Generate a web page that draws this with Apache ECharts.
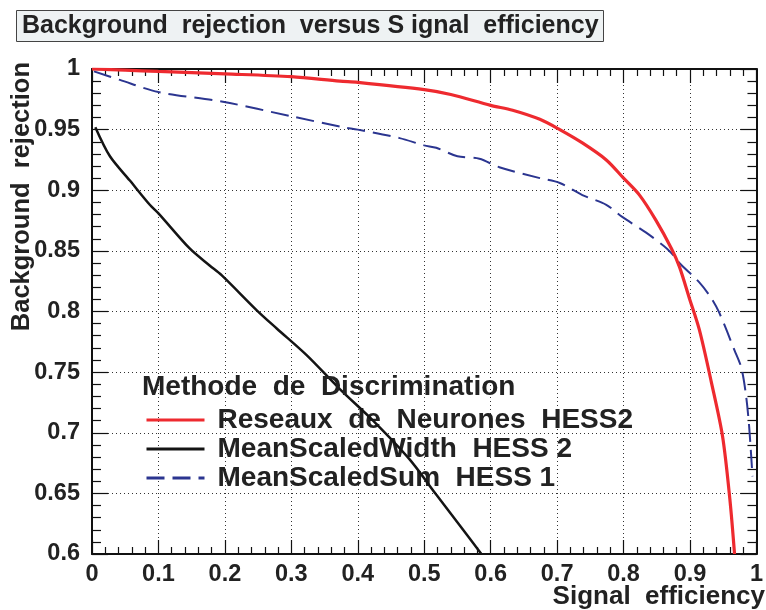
<!DOCTYPE html>
<html>
<head>
<meta charset="utf-8">
<script src="https://cdn.jsdelivr.net/npm/echarts@6/dist/echarts.min.js"></script>
<style>
  html, body { margin: 0; padding: 0; background: #fff; }
  #main { width: 766px; height: 610px; }
</style>
</head>
<body>
<div id="main"></div>
<script>
// signal efficiency / background rejection
var nnEff = [0, 0.05, 0.1, 0.2, 0.3, 0.373, 0.4, 0.5, 0.54, 0.6, 0.633, 0.674, 0.704, 0.738, 0.774, 0.8, 0.824, 0.849, 0.872, 0.884, 0.899, 0.914, 0.932, 0.949, 0.96, 0.967];
var nnRej = [1.0, 0.999, 0.998, 0.996, 0.9937, 0.990, 0.989, 0.983, 0.979, 0.970, 0.966, 0.9585, 0.950, 0.939, 0.925, 0.910, 0.896, 0.875, 0.852, 0.837, 0.811, 0.785, 0.742, 0.697, 0.645, 0.60];

var mswEff = [0.005, 0.027, 0.057, 0.087, 0.1, 0.147, 0.177, 0.195, 0.248, 0.278, 0.323, 0.373, 0.423, 0.478, 0.518, 0.553, 0.586];
var mswRej = [0.952, 0.928, 0.908, 0.888, 0.881, 0.852, 0.838, 0.830, 0.801, 0.786, 0.764, 0.736, 0.710, 0.678, 0.649, 0.624, 0.60];

var mssEff = [0.003, 0.042, 0.1, 0.197, 0.3, 0.378, 0.4, 0.463, 0.5, 0.518, 0.55, 0.583, 0.613, 0.674, 0.704, 0.738, 0.774, 0.798, 0.834, 0.865, 0.877, 0.884, 0.914, 0.932, 0.944, 0.967, 0.977, 0.984, 0.989, 0.994];
var mssRej = [0.998, 0.991, 0.981, 0.973, 0.961, 0.952, 0.950, 0.943, 0.937, 0.935, 0.928, 0.926, 0.919, 0.910, 0.906, 0.896, 0.888, 0.878, 0.865, 0.852, 0.845, 0.840, 0.824, 0.811, 0.799, 0.768, 0.754, 0.732, 0.705, 0.664];

var seriesNames = ['Reseaux  de  Neurones  HESS2', 'MeanScaledWidth  HESS 2', 'MeanScaledSum  HESS 1'];

function pairs(xs, ys) {
  return xs.map(function (x, i) { return [x, ys[i]]; });
}

var font = '"Liberation Sans", Arial, sans-serif';
var chart = echarts.init(document.getElementById('main'), null, { renderer: 'canvas' });

var xTicks = {
  show: true, inside: true, length: 14,
  lineStyle: { color: '#111', width: 1.2 }
};
var xMinor = {
  show: true, splitNumber: 5, length: 7,
  lineStyle: { color: '#111', width: 1.2 }
};
var yTicks = {
  show: true, inside: true, length: 16,
  lineStyle: { color: '#111', width: 1.2 }
};
var yMinor = {
  show: true, splitNumber: 5, length: 9,
  lineStyle: { color: '#111', width: 1.2 }
};
var frameLine = { show: true, onZero: false, lineStyle: { color: '#111', width: 2 } };
var gridDots = { show: true, lineStyle: { color: '#333', type: [1, 3], width: 1 } };
var tickLabel = {
  color: '#222', fontFamily: font, fontWeight: 'bold', fontSize: 23.5,
  formatter: function (v) { return String(+v.toFixed(2)); }
};

var option = {
  animation: false,
  backgroundColor: '#fff',
  title: [{
    text: 'Background  rejection  versus S ignal  efficiency',
    left: 16,
    top: 10,
    padding: [4, 5, 3, 6],
    backgroundColor: '#eef2f3',
    borderColor: '#444',
    borderWidth: 1,
    textStyle: { fontFamily: font, fontWeight: 'bold', fontSize: 25, color: '#222' }
  }, {
    text: 'Methode  de  Discrimination',
    left: 142,
    top: 373,
    padding: 0,
    textStyle: { fontFamily: font, fontWeight: 'bold', fontSize: 28, color: '#222' }
  }],
  legend: {
    orient: 'vertical',
    left: 145,
    top: 406,
    padding: 0,
    itemWidth: 58,
    itemHeight: 30,
    itemGap: 1,
    data: seriesNames,
    itemStyle: { opacity: 0 },
    lineStyle: { width: 3 },
    textStyle: { fontFamily: font, fontWeight: 'bold', fontSize: 28, color: '#222', padding: [0, 0, 0, 8] }
  },
  grid: { left: 92, right: 9, top: 69, bottom: 56 },
  xAxis: [{
    type: 'value', min: 0, max: 1, interval: 0.1,
    position: 'bottom',
    axisLine: frameLine,
    axisTick: xTicks,
    minorTick: xMinor,
    splitLine: gridDots,
    axisLabel: Object.assign({ margin: 9 }, tickLabel)
  }, {
    type: 'value', min: 0, max: 1, interval: 0.1,
    position: 'top',
    axisLine: frameLine,
    axisTick: xTicks,
    minorTick: xMinor,
    splitLine: { show: false },
    axisLabel: { show: false }
  }],
  yAxis: [{
    type: 'value', min: 0.6, max: 1, interval: 0.05,
    position: 'left',
    axisLine: frameLine,
    axisTick: yTicks,
    minorTick: yMinor,
    splitLine: gridDots,
    axisLabel: Object.assign({ margin: 12 }, tickLabel)
  }, {
    type: 'value', min: 0.6, max: 1, interval: 0.05,
    position: 'right',
    axisLine: frameLine,
    axisTick: yTicks,
    minorTick: yMinor,
    splitLine: { show: false },
    axisLabel: { show: false }
  }],
  graphic: [{
    type: 'text',
    x: 22, y: 62,
    rotation: Math.PI / 2,
    style: {
      text: 'Background  rejection',
      font: 'bold 25.5px ' + font,
      fill: '#222',
      align: 'right',
      verticalAlign: 'middle'
    }
  }, {
    type: 'text',
    x: 765, y: 597,
    style: {
      text: 'Signal  efficiency',
      font: 'bold 26px ' + font,
      fill: '#222',
      align: 'right',
      verticalAlign: 'middle'
    }
  }],
  series: [{
    name: seriesNames[2],
    type: 'line',
    symbol: 'none',
    smooth: 0.3,
    data: pairs(mssEff, mssRej),
    lineStyle: { color: '#2b3590', width: 2, type: [18, 8] },
    itemStyle: { color: '#2b3590' },
    z: 3
  }, {
    name: seriesNames[1],
    type: 'line',
    symbol: 'none',
    smooth: 0.3,
    data: pairs(mswEff, mswRej),
    lineStyle: { color: '#141414', width: 2.5 },
    itemStyle: { color: '#141414' },
    z: 4
  }, {
    name: seriesNames[0],
    type: 'line',
    symbol: 'none',
    smooth: 0.3,
    data: pairs(nnEff, nnRej),
    lineStyle: { color: '#ee2a2f', width: 3.2 },
    itemStyle: { color: '#ee2a2f' },
    z: 5
  }]
};

chart.setOption(option);
</script>
</body>
</html>
